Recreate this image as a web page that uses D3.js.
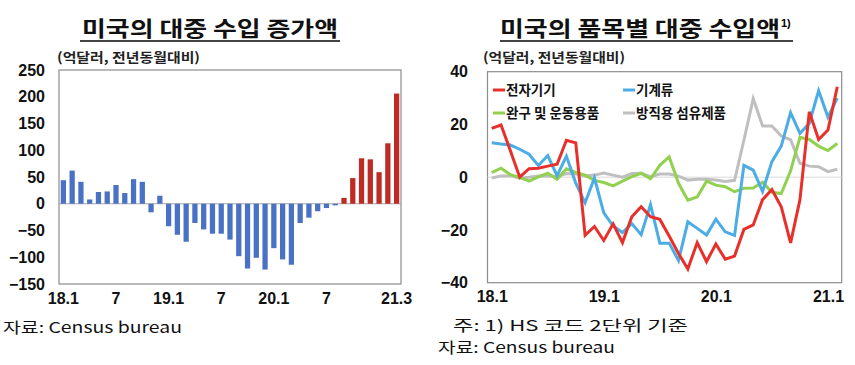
<!DOCTYPE html>
<html><head><meta charset="utf-8">
<script src="https://cdn.jsdelivr.net/npm/d3@7"></script>
<style>html,body{margin:0;padding:0;background:#fff;}svg{display:block}</style>
</head><body><svg id="c" width="855" height="365"></svg>
<script>
// ---------- Left chart data ----------
const monthsLeft = ["18.1","18.2","18.3","18.4","18.5","18.6","18.7","18.8","18.9","18.10","18.11","18.12",
  "19.1","19.2","19.3","19.4","19.5","19.6","19.7","19.8","19.9","19.10","19.11","19.12",
  "20.1","20.2","20.3","20.4","20.5","20.6","20.7","20.8","20.9","20.10","20.11","20.12",
  "21.1","21.2","21.3"];
const importChange = [44,62,41,8,22,23,35,20,46,41,-16,15,
  -42,-58,-71,-36,-48,-56,-56,-67,-98,-121,-101,-123,
  -83,-104,-114,-36,-26,-14,-8,-3,11,48,85,83,
  59,113,206];
const redFrom = "20.9";
const leftTickMonths = ["18.1","18.7","19.1","19.7","20.1","20.7","21.3"];
const leftTickLabels = ["18.1","7","19.1","7","20.1","7","21.3"];
const leftYTicks = [250,200,150,100,50,0,-50,-100,-150];

// ---------- Right chart data ----------
const monthsRight = ["18.1","18.2","18.3","18.4","18.5","18.6","18.7","18.8","18.9","18.10","18.11","18.12",
  "19.1","19.2","19.3","19.4","19.5","19.6","19.7","19.8","19.9","19.10","19.11","19.12",
  "20.1","20.2","20.3","20.4","20.5","20.6","20.7","20.8","20.9","20.10","20.11","20.12",
  "21.1","21.2"];
const electronics = [18.5,19.8,10,0,3.2,3.4,4.2,4.9,14,13,-22,-18.7,
  -24,-17.7,-24.8,-15,-11.2,-15,-16,-22.3,-28.9,-34.8,-24.8,-32,
  -25.3,-31.1,-29.9,-19.8,-18.1,-8.5,-4.7,-11.2,-24.9,-8.6,24.8,14.3,
  17.9,34.3];
const machinery = [13.1,12.6,12.2,10.6,8.7,4.4,8.2,0.6,8,-2.3,-9.7,-0.3,
  -13.5,-18.5,-21,-17.6,-21.8,-10.4,-25,-25,-31.6,-16.9,-19.4,-21.9,
  -15.9,-20.7,-22.1,4.5,2.7,-5.4,5.9,11.8,24.5,16.6,20.4,32.8,
  22.8,30];
const toys = [1.7,3.4,1,-0.1,-1.5,0.1,1.5,-0.8,3.2,1.8,0.8,-1.2,
  -2,-3.3,-1.5,0.2,1.5,-0.6,4.5,7.7,-2.3,-8.7,-7.5,-1.5,
  -3,-3.6,-5.5,-4.2,-4.1,-1.9,-5.7,-6.2,2.4,15.1,14.3,11.8,
  10.1,12.8];
const textiles = [-0.3,0.5,0.6,-0.4,0,0.5,0.5,0.3,1.4,1.2,0.5,0.8,
  1.6,0.8,0,1.4,1.5,0.2,1.2,1.2,0.4,-1.1,-0.8,-0.8,
  -1.1,-1.6,-1.2,14,29.8,19.4,19.4,15.6,14.2,5.3,4.2,4,
  2.1,3];
const seriesNames = ["전자기기","기계류","완구 및 운동용품","방직용 섬유제품"];
const seriesColors = ["#E8302A","#4BACE6","#92D050","#BFBFBF"];
const rightTickMonths = ["18.1","19.1","20.1","21.1"];
const rightYTicks = [40,20,0,-20,-40];

const svg = d3.select("#c");
const KR = "'Noto Sans CJK KR','Noto Sans',sans-serif";
const LAT = "'Liberation Sans',Arial,sans-serif";

// ---------- Titles ----------
function title(x, y, w, text, ulX1, ulX2, ulY) {
  svg.append("text").attr("x", x).attr("y", y)
    .attr("textLength", w).attr("lengthAdjust", "spacingAndGlyphs")
    .style("font-family", KR).style("font-weight", 700).style("font-size", "21px")
    .style("fill", "#111").text(text);
  svg.append("line").attr("x1", ulX1).attr("x2", ulX2).attr("y1", ulY).attr("y2", ulY)
    .attr("stroke", "#444").attr("stroke-width", 1.8);
}
title(82, 36, 256, "미국의 대중 수입 증가액", 80, 340, 41);
title(500, 36, 280, "미국의 품목별 대중 수입액", 500, 793, 41);
svg.append("text").attr("x", 781).attr("y", 27)
  .style("font-family", LAT).style("font-weight", 700).style("font-size", "11px").text("1)");

function subtitle(x, y, w) {
  svg.append("text").attr("x", x).attr("y", y)
    .attr("textLength", w).attr("lengthAdjust", "spacingAndGlyphs")
    .style("font-family", KR).style("font-weight", 700).style("font-size", "13px")
    .style("fill", "#222").text("(억달러, 전년동월대비)");
}
subtitle(57, 62, 143);
subtitle(483, 62, 142);

// ---------- Left chart ----------
const L = {x0: 59, x1: 401, y0: 70, y1: 284};
const xL = d3.scaleBand().domain(monthsLeft).range([L.x0, L.x1]).paddingInner(0.4).paddingOuter(0.2);
const yL = d3.scaleLinear().domain([-150, 250]).range([L.y1, L.y0]);
const redIdx = monthsLeft.indexOf(redFrom);

svg.append("rect").attr("x", L.x0).attr("y", L.y0).attr("width", L.x1 - L.x0).attr("height", L.y1 - L.y0)
  .attr("fill", "none").attr("stroke", "#8c8c8c").attr("stroke-width", 1.2);
svg.append("line").attr("x1", L.x0).attr("x2", L.x1).attr("y1", yL(0)).attr("y2", yL(0))
  .attr("stroke", "#a6a6a6").attr("stroke-width", 1);

svg.append("g").selectAll("rect").data(importChange).join("rect")
  .attr("x", (d, i) => xL(monthsLeft[i]))
  .attr("width", xL.bandwidth())
  .attr("y", d => yL(Math.max(0, d)))
  .attr("height", d => Math.abs(yL(d) - yL(0)))
  .attr("fill", (d, i) => i >= redIdx ? "#BE2B24" : "#4A72C4");

const yAxL = svg.append("g").attr("transform", `translate(${L.x0 - 14},0)`)
  .call(d3.axisLeft(yL).tickValues(leftYTicks).tickSize(0).tickPadding(0));
const xAxL = svg.append("g").attr("transform", `translate(0,${L.y1 + 9})`)
  .call(d3.axisBottom(xL).tickValues(leftTickMonths).tickSize(0).tickPadding(0)
    .tickFormat(m => leftTickLabels[leftTickMonths.indexOf(m)]));

// ---------- Right chart ----------
const R = {x0: 487.5, x1: 841.7, y0: 71.7, y1: 282.7};
const xR = d3.scalePoint().domain(monthsRight).range([491.7, 837.3]);
const yR = d3.scaleLinear().domain([-40, 40]).range([R.y1, R.y0]);

svg.append("rect").attr("x", R.x0).attr("y", R.y0).attr("width", R.x1 - R.x0).attr("height", R.y1 - R.y0)
  .attr("fill", "none").attr("stroke", "#8c8c8c").attr("stroke-width", 1.2);
svg.append("line").attr("x1", R.x0).attr("x2", R.x1).attr("y1", yR(0)).attr("y2", yR(0))
  .attr("stroke", "#d9d9d9").attr("stroke-width", 1);

const allSeries = [electronics, machinery, toys, textiles];
const line = d3.line().x((d, i) => xR(monthsRight[i])).y(d => yR(d));
const drawOrder = [3, 2, 1, 0];
svg.append("g").selectAll("path").data(drawOrder).join("path")
  .attr("d", k => line(allSeries[k]))
  .attr("fill", "none").attr("stroke", k => seriesColors[k])
  .attr("stroke-width", 3).attr("stroke-linejoin", "miter");

const yAxR = svg.append("g").attr("transform", `translate(468,0)`)
  .call(d3.axisLeft(yR).tickValues(rightYTicks).tickSize(0).tickPadding(0));
const xAxR = svg.append("g").attr("transform", `translate(0,${R.y1 + 8})`)
  .call(d3.axisBottom(xR).tickValues(rightTickMonths).tickSize(0).tickPadding(0));

[yAxL, xAxL, yAxR, xAxR].forEach(g => {
  g.select(".domain").remove();
  g.selectAll("text").style("font-family", LAT).style("font-weight", 700)
    .style("font-size", "16px").style("fill", "#111");
});
xAxL.selectAll("text").attr("dy", "0.71em");
xAxR.selectAll("text").attr("dy", "0.71em");

// Legend
const legendPos = [[493, 90], [623, 90], [493, 113], [623, 113]];
seriesNames.forEach((name, k) => {
  const [lx, ly] = legendPos[k];
  svg.append("line").attr("x1", lx).attr("x2", lx + 12).attr("y1", ly).attr("y2", ly)
    .attr("stroke", seriesColors[k]).attr("stroke-width", 3);
  svg.append("text").attr("x", lx + 13).attr("y", ly + 5)
    .style("font-family", KR).style("font-weight", 700).style("font-size", "13.5px")
    .style("fill", "#111").text(name);
});

// ---------- Footers ----------
function foot(x, y, text, w) {
  svg.append("text").attr("x", x).attr("y", y)
    .attr("textLength", w).attr("lengthAdjust", "spacingAndGlyphs")
    .style("font-family", KR).style("font-size", "15px").style("fill", "#111").text(text);
}
foot(3, 333, "자료: Census bureau", 179);
foot(453, 331, "주: 1) HS 코드 2단위 기준", 235);
foot(438, 353, "자료: Census bureau", 177);
</script></body></html>
